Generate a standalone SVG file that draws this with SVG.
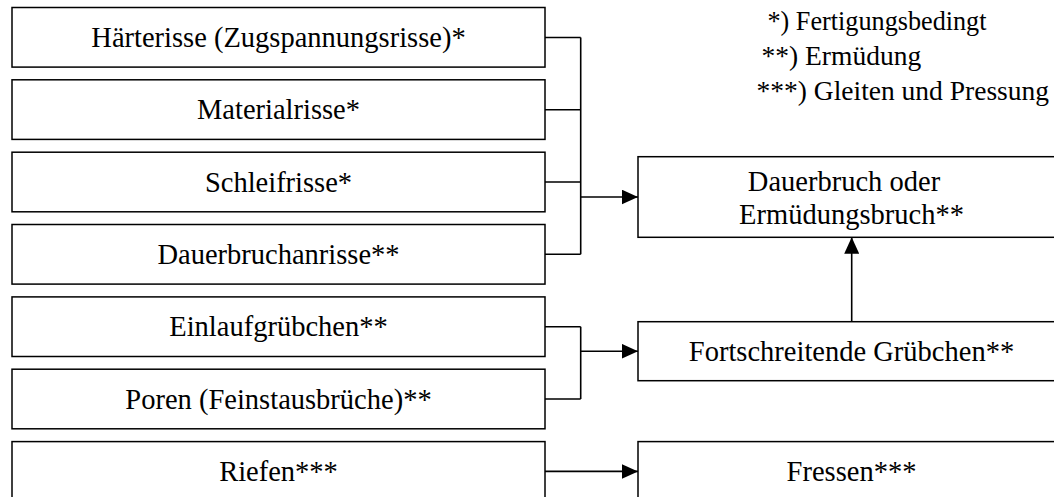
<svg xmlns="http://www.w3.org/2000/svg" width="1054" height="497" viewBox="0 0 1054 497">
  <style>
    .box { fill: #ffffff; stroke: #000000; stroke-width: 1.5; }
    .lbl { font-family: 'Liberation Serif', 'DejaVu Serif', serif; font-size: 28.5px; fill: #000000; text-anchor: middle; }
    .note { font-family: 'Liberation Serif', 'DejaVu Serif', serif; font-size: 27.5px; fill: #000000; }
    .wire { fill: none; stroke: #000000; stroke-width: 1.6; }
  </style>
  <defs>
    <marker id="arrow" markerWidth="17" markerHeight="15" refX="16.5" refY="7.5" orient="auto" markerUnits="userSpaceOnUse">
      <path d="M0,0 L16.5,7.5 L0,15 Z" fill="#000000"/>
    </marker>
  </defs>
  <rect width="1054" height="497" fill="#ffffff"/>

  <!-- legend -->
  <g id="legend">
    <text class="note" x="767.5" y="30" textLength="219" lengthAdjust="spacingAndGlyphs">*) Fertigungsbedingt</text>
    <text class="note" x="761.5" y="65">**) Ermüdung</text>
    <text class="note" x="756.5" y="100">***) Gleiten und Pressung</text>
  </g>

  <!-- connectors -->
  <g id="connectors">
    <path class="wire" d="M545,37.5 H580.7 M545,109.8 H580.7 M545,182 H580.7 M545,254.3 H580.7 M580.7,37.5 V254.3"/>
    <path class="wire" d="M580.7,197 H638" marker-end="url(#arrow)"/>
    <path class="wire" d="M545,326.7 H580.7 M545,399 H580.7 M580.7,326.7 V399"/>
    <path class="wire" d="M580.7,351.2 H638" marker-end="url(#arrow)"/>
    <path class="wire" d="M545,471.4 H638" marker-end="url(#arrow)"/>
    <path class="wire" d="M851.7,321.7 V237.3" marker-end="url(#arrow)"/>
  </g>

  <!-- left column -->
  <g id="haerterisse">
    <rect class="box" x="12" y="7.5" width="533" height="59.6"/>
    <text class="lbl" x="278.5" y="47">Härterisse (Zugspannungsrisse)*</text>
  </g>
  <g id="materialrisse">
    <rect class="box" x="12" y="79.8" width="533" height="59.6"/>
    <text class="lbl" x="278.5" y="119.3">Materialrisse*</text>
  </g>
  <g id="schleifrisse">
    <rect class="box" x="12" y="152.2" width="533" height="59.6"/>
    <text class="lbl" x="278.5" y="191.7">Schleifrisse*</text>
  </g>
  <g id="dauerbruchanrisse">
    <rect class="box" x="12" y="224.5" width="533" height="59.6"/>
    <text class="lbl" x="278.5" y="264">Dauerbruchanrisse**</text>
  </g>
  <g id="einlaufgruebchen">
    <rect class="box" x="12" y="296.9" width="533" height="59.6"/>
    <text class="lbl" x="278.5" y="336.4">Einlaufgrübchen**</text>
  </g>
  <g id="poren">
    <rect class="box" x="12" y="369.2" width="533" height="59.6"/>
    <text class="lbl" x="278.5" y="408.7">Poren (Feinstausbrüche)**</text>
  </g>
  <g id="riefen">
    <rect class="box" x="12" y="441.6" width="533" height="59.6"/>
    <text class="lbl" x="278.5" y="481.1">Riefen***</text>
  </g>

  <!-- right column -->
  <g id="dauerbruch">
    <rect class="box" x="638" y="156.7" width="427" height="80.6"/>
    <text class="lbl" x="844" y="191">Dauerbruch oder</text>
    <text class="lbl" x="851.5" y="224">Ermüdungsbruch**</text>
  </g>
  <g id="fortschreitende">
    <rect class="box" x="638" y="321.7" width="427" height="59"/>
    <text class="lbl" x="851.5" y="360.5">Fortschreitende Grübchen**</text>
  </g>
  <g id="fressen">
    <rect class="box" x="638" y="441.6" width="427" height="59.6"/>
    <text class="lbl" x="851.5" y="481.1">Fressen***</text>
  </g>
</svg>
